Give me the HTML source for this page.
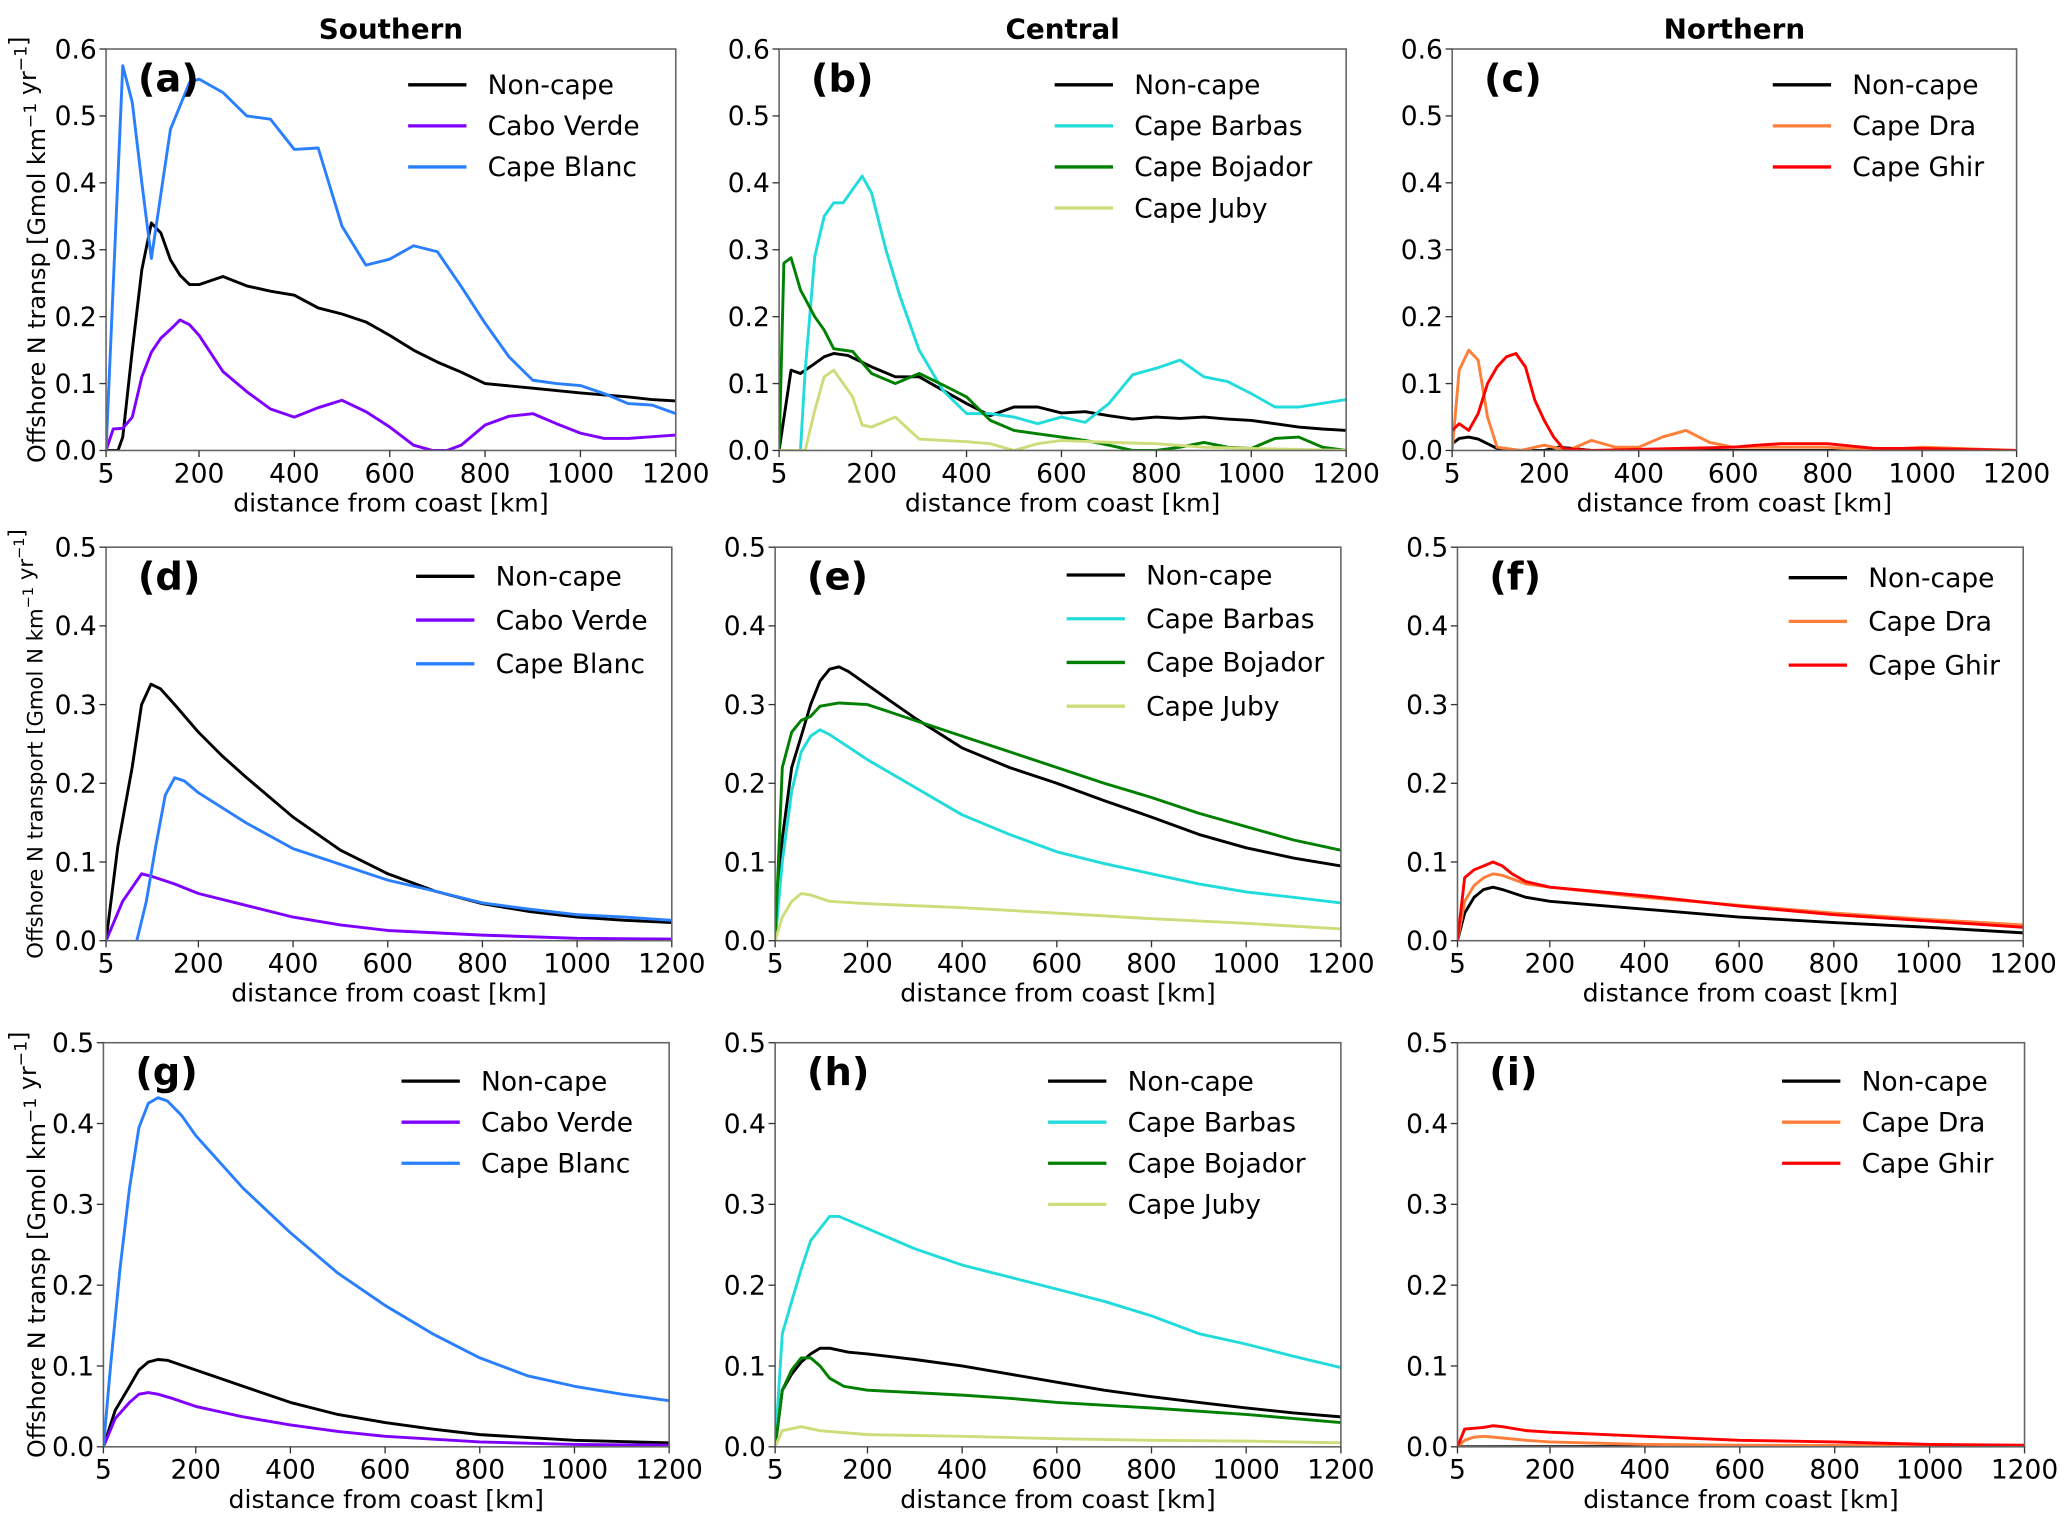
<!DOCTYPE html>
<html><head><meta charset="utf-8"><style>
html,body{margin:0;padding:0;background:#fff;}
svg{display:block;font-family:"DejaVu Sans","Liberation Sans",sans-serif;}
</style></head><body>
<svg id="fig" width="2067" height="1521" viewBox="0 0 1560 1148" xmlns="http://www.w3.org/2000/svg"></svg>
<script>
// ---- data ----
const xTicks = [5,200,400,600,800,1000,1200];
const yTicksRow1 = [0,0.1,0.2,0.3,0.4,0.5,0.6];
const yTicksRow23 = [0,0.1,0.2,0.3,0.4,0.5];
const colTitles = ["Southern","Central","Northern"];
const panelLabels = ["(a)","(b)","(c)","(d)","(e)","(f)","(g)","(h)","(i)"];

const aNon = [[5,0],[30,0],[40,0.02],[60,0.15],[80,0.27],[100,0.34],[120,0.325],[140,0.285],[160,0.262],[180,0.248],[200,0.248],[250,0.26],[300,0.246],[350,0.238],[400,0.232],[450,0.213],[500,0.204],[550,0.192],[600,0.172],[650,0.15],[700,0.132],[750,0.117],[800,0.1],[900,0.093],[1000,0.086],[1100,0.08],[1150,0.076],[1200,0.074]];
const aCabo = [[5,0],[20,0.032],[40,0.033],[60,0.05],[80,0.11],[100,0.147],[120,0.168],[140,0.181],[160,0.195],[180,0.188],[200,0.172],[250,0.118],[300,0.088],[350,0.062],[400,0.05],[450,0.064],[500,0.075],[550,0.058],[600,0.035],[650,0.008],[690,0],[720,0],[750,0.008],[800,0.038],[850,0.051],[900,0.055],[950,0.04],[1000,0.026],[1050,0.018],[1100,0.018],[1200,0.023]];
const aBlanc = [[5,0],[40,0.575],[60,0.52],[80,0.4],[100,0.287],[140,0.48],[180,0.55],[200,0.555],[250,0.535],[300,0.5],[350,0.495],[400,0.45],[450,0.452],[500,0.335],[550,0.277],[600,0.286],[650,0.306],[700,0.297],[750,0.245],[800,0.19],[850,0.14],[900,0.105],[950,0.1],[1000,0.097],[1050,0.085],[1100,0.07],[1150,0.068],[1200,0.055]];

const bNon = [[5,0],[30,0.12],[50,0.115],[80,0.13],[100,0.14],[120,0.145],[150,0.142],[200,0.125],[250,0.11],[300,0.11],[350,0.09],[400,0.07],[450,0.052],[500,0.065],[550,0.065],[600,0.056],[650,0.058],[700,0.052],[750,0.047],[800,0.05],[850,0.048],[900,0.05],[950,0.047],[1000,0.045],[1050,0.04],[1100,0.035],[1150,0.032],[1200,0.03]];
const bBarbas = [[5,0],[50,0],[60,0.12],[80,0.29],[100,0.35],[120,0.37],[140,0.37],[160,0.39],[180,0.41],[200,0.385],[230,0.3],[260,0.23],[300,0.15],[350,0.09],[400,0.055],[450,0.055],[500,0.05],[550,0.04],[600,0.05],[650,0.042],[700,0.07],[750,0.113],[800,0.123],[850,0.135],[900,0.11],[950,0.103],[1000,0.085],[1050,0.065],[1100,0.065],[1200,0.076]];
const bBojador = [[5,0],[15,0.28],[30,0.288],[50,0.24],[80,0.2],[100,0.18],[120,0.152],[160,0.148],[200,0.115],[250,0.1],[300,0.115],[350,0.098],[400,0.08],[450,0.045],[500,0.03],[550,0.025],[600,0.02],[650,0.015],[700,0.008],[750,0],[800,0],[850,0.005],[900,0.012],[950,0.005],[1000,0.003],[1050,0.018],[1100,0.02],[1150,0.005],[1200,0]];
const bJuby = [[5,0],[60,0],[80,0.06],[100,0.11],[120,0.12],[140,0.1],[160,0.08],[180,0.038],[200,0.035],[250,0.05],[300,0.017],[350,0.015],[400,0.013],[450,0.01],[500,0],[550,0.01],[600,0.015],[700,0.012],[800,0.01],[900,0.005],[1000,0.003],[1200,0]];

const cNon = [[5,0.01],[20,0.018],[40,0.02],[60,0.017],[80,0.01],[100,0.003],[120,0],[200,0],[230,0.005],[260,0.003],[300,0],[1200,0]];
const cDra = [[5,0],[20,0.12],[40,0.15],[60,0.135],[80,0.05],[100,0.005],[150,0],[200,0.008],[250,0],[300,0.015],[350,0.005],[400,0.005],[450,0.02],[500,0.03],[550,0.012],[600,0.005],[800,0.005],[900,0],[1000,0.005],[1200,0]];
const cGhir = [[5,0.03],[20,0.04],[40,0.03],[60,0.055],[80,0.1],[100,0.125],[120,0.14],[140,0.145],[160,0.125],[180,0.075],[200,0.045],[220,0.02],[240,0.003],[300,0],[600,0.005],[650,0.008],[700,0.01],[800,0.01],[900,0.003],[1000,0.003],[1200,0]];

const dNon = [[5,0],[30,0.12],[60,0.22],[80,0.3],[100,0.326],[120,0.32],[150,0.3],[200,0.265],[250,0.235],[300,0.208],[400,0.157],[500,0.115],[600,0.085],[700,0.063],[800,0.047],[900,0.037],[1000,0.03],[1100,0.026],[1200,0.023]];
const dCabo = [[5,0],[40,0.05],[80,0.085],[100,0.082],[150,0.072],[200,0.06],[300,0.045],[400,0.03],[500,0.02],[600,0.013],[800,0.007],[1000,0.003],[1200,0.002]];
const dBlanc = [[5,0],[30,-0.005],[50,-0.01],[70,0],[90,0.05],[110,0.12],[130,0.185],[150,0.207],[170,0.203],[200,0.188],[300,0.15],[400,0.117],[500,0.097],[600,0.077],[700,0.063],[800,0.048],[900,0.04],[1000,0.033],[1100,0.03],[1200,0.026]];

const eNon = [[5,0],[20,0.13],[40,0.22],[60,0.26],[80,0.3],[100,0.33],[120,0.345],[140,0.348],[160,0.342],[200,0.325],[300,0.283],[400,0.245],[500,0.22],[600,0.2],[700,0.178],[800,0.157],[900,0.135],[1000,0.118],[1100,0.105],[1200,0.095]];
const eBarbas = [[5,0],[20,0.1],[40,0.19],[60,0.24],[80,0.26],[100,0.268],[120,0.262],[150,0.25],[200,0.23],[300,0.195],[400,0.16],[500,0.135],[600,0.113],[700,0.098],[800,0.085],[900,0.072],[1000,0.062],[1100,0.055],[1200,0.048]];
const eBojador = [[5,0],[20,0.22],[40,0.265],[60,0.28],[80,0.285],[100,0.298],[140,0.302],[200,0.3],[300,0.28],[400,0.26],[500,0.24],[600,0.22],[700,0.2],[800,0.182],[900,0.162],[1000,0.145],[1100,0.128],[1200,0.115]];
const eJuby = [[5,0],[20,0.03],[40,0.05],[60,0.06],[80,0.058],[120,0.05],[200,0.047],[400,0.042],[600,0.035],[800,0.028],[1000,0.022],[1200,0.015]];

const fNon = [[5,0],[20,0.035],[40,0.055],[60,0.065],[80,0.068],[100,0.065],[150,0.055],[200,0.05],[400,0.04],[600,0.03],[800,0.023],[1000,0.017],[1200,0.01]];
const fDra = [[5,0],[20,0.05],[40,0.07],[60,0.08],[80,0.085],[100,0.083],[150,0.072],[200,0.068],[400,0.055],[600,0.045],[800,0.035],[1000,0.027],[1200,0.02]];
const fGhir = [[5,0],[20,0.08],[40,0.09],[60,0.095],[80,0.1],[100,0.095],[120,0.085],[150,0.075],[200,0.068],[400,0.057],[600,0.044],[800,0.033],[1000,0.025],[1200,0.017]];

const gNon = [[5,0],[30,0.045],[60,0.075],[80,0.095],[100,0.105],[120,0.108],[140,0.107],[200,0.095],[300,0.075],[400,0.055],[500,0.04],[600,0.03],[700,0.022],[800,0.015],[1000,0.008],[1200,0.005]];
const gCabo = [[5,0],[30,0.035],[60,0.055],[80,0.065],[100,0.067],[120,0.065],[150,0.06],[200,0.05],[300,0.037],[400,0.027],[500,0.019],[600,0.013],[800,0.006],[1000,0.003],[1200,0.002]];
const gBlanc = [[5,0],[20,0.1],[40,0.22],[60,0.32],[80,0.395],[100,0.425],[120,0.432],[140,0.428],[170,0.41],[200,0.385],[300,0.32],[400,0.265],[500,0.215],[600,0.175],[700,0.14],[800,0.11],[900,0.088],[1000,0.075],[1100,0.065],[1200,0.057]];

const hNon = [[5,0],[20,0.07],[40,0.09],[60,0.105],[80,0.115],[100,0.122],[120,0.122],[160,0.117],[200,0.115],[300,0.108],[400,0.1],[500,0.09],[600,0.08],[700,0.07],[800,0.062],[900,0.055],[1000,0.048],[1100,0.042],[1200,0.037]];
const hBarbas = [[5,0],[20,0.14],[40,0.18],[60,0.22],[80,0.255],[100,0.27],[120,0.285],[140,0.285],[200,0.27],[300,0.245],[400,0.225],[500,0.21],[600,0.195],[700,0.18],[800,0.162],[900,0.14],[1000,0.127],[1100,0.112],[1200,0.098]];
const hBojador = [[5,0],[20,0.07],[40,0.095],[60,0.11],[80,0.11],[100,0.1],[120,0.085],[150,0.075],[200,0.07],[300,0.067],[400,0.064],[500,0.06],[600,0.055],[800,0.048],[1000,0.04],[1200,0.03]];
const hJuby = [[5,0],[20,0.02],[60,0.025],[100,0.02],[200,0.015],[400,0.013],[600,0.01],[800,0.008],[1000,0.007],[1200,0.005]];

const iNon = [[5,0],[1200,0.001]];
const iDra = [[5,0],[20,0.008],[40,0.012],[60,0.013],[80,0.012],[150,0.008],[200,0.006],[400,0.003],[600,0.002],[1200,0.001]];
const iGhir = [[5,0],[20,0.022],[60,0.024],[80,0.026],[100,0.025],[150,0.02],[200,0.018],[400,0.013],[600,0.008],[800,0.006],[1000,0.003],[1200,0.002]];

const C = {non:"#000000",cabo:"#8000ff",blanc:"#2a7fff",barbas:"#22dcdc",bojador:"#008000",juby:"#cfdc7a",dra:"#ff7f3a",ghir:"#ff0000"};
const south = (n,c,b)=>[["Non-cape",C.non,n],["Cabo Verde",C.cabo,c],["Cape Blanc",C.blanc,b]];
const central = (n,ba,bo,j)=>[["Non-cape",C.non,n],["Cape Barbas",C.barbas,ba],["Cape Bojador",C.bojador,bo],["Cape Juby",C.juby,j]];
const north = (n,d,g)=>[["Non-cape",C.non,n],["Cape Dra",C.dra,d],["Cape Ghir",C.ghir,g]];

const panels = [
 {l:80,r:510,t:37,b:340,ymax:0.6,yt:yTicksRow1,s:south(aNon,aCabo,aBlanc),lx:308,ly:64,ls:31},
 {l:588,r:1016,t:37,b:340,ymax:0.6,yt:yTicksRow1,s:central(bNon,bBarbas,bBojador,bJuby),lx:796,ly:64,ls:31},
 {l:1096,r:1522,t:37,b:340,ymax:0.6,yt:yTicksRow1,s:north(cNon,cDra,cGhir),lx:1338,ly:64,ls:31},
 {l:80,r:507,t:413,b:710,ymax:0.5,yt:yTicksRow23,s:south(dNon,dCabo,dBlanc),lx:314,ly:435,ls:33},
 {l:585,r:1012,t:413,b:710,ymax:0.5,yt:yTicksRow23,s:central(eNon,eBarbas,eBojador,eJuby),lx:805,ly:434,ls:33},
 {l:1100,r:1527,t:413,b:710,ymax:0.5,yt:yTicksRow23,s:north(fNon,fDra,fGhir),lx:1350,ly:436,ls:33},
 {l:78,r:505,t:787,b:1092,ymax:0.5,yt:yTicksRow23,s:south(gNon,gCabo,gBlanc),lx:303,ly:816,ls:31},
 {l:585,r:1012,t:787,b:1092,ymax:0.5,yt:yTicksRow23,s:central(hNon,hBarbas,hBojador,hJuby),lx:791,ly:816,ls:31},
 {l:1100,r:1528,t:787,b:1092,ymax:0.5,yt:yTicksRow23,s:north(iNon,iDra,iGhir),lx:1345,ly:816,ls:31}
];

const NS="http://www.w3.org/2000/svg";
const svg=document.getElementById('fig');
function mk(tag,attrs,parent,text){const e=document.createElementNS(NS,tag);for(const k in attrs)e.setAttribute(k,attrs[k]);if(text!==undefined)e.textContent=text;(parent||svg).appendChild(e);return e;}

panels.forEach((p,i)=>{
  const g=mk('g',{});
  
  
  const xs=v=>p.l+(v-5)/(1200-5)*(p.r-p.l);
  const ys=v=>p.b-v/p.ymax*(p.b-p.t);
  const cid='clip'+i;
  const cp=mk('clipPath',{id:cid},g);mk('rect',{x:p.l,y:p.t,width:p.r-p.l,height:p.b-p.t},cp);
  // series
  p.s.forEach(([name,col,data])=>{
    const d=data.map((pt,k)=>(k?'L':'M')+xs(pt[0]).toFixed(1)+','+ys(pt[1]).toFixed(1)).join('');
    const path=mk('path',{d:d,fill:'none',stroke:col,'stroke-width':2.2,'stroke-linejoin':'round','clip-path':'url(#'+cid+')'},g);
    
    
  });
  // frame
  const fr=mk('rect',{x:p.l,y:p.t,width:p.r-p.l,height:p.b-p.t,fill:'none',stroke:'#666','stroke-width':1.2},g);
  
  
  // x ticks
  xTicks.forEach(v=>{
    const x=xs(v);
    mk('line',{x1:x,y1:p.b,x2:x,y2:p.b+5,stroke:'#333','stroke-width':1},g);
    const t=mk('text',{x:x,y:p.b+24,'font-size':20,'text-anchor':'middle',fill:'#000'},g,String(v));
    
    
  });
  p.yt.forEach(v=>{
    const y=ys(v);
    mk('line',{x1:p.l-5,y1:y,x2:p.l,y2:y,stroke:'#333','stroke-width':1},g);
    const t=mk('text',{x:p.l-7,y:y+7,'font-size':20,'text-anchor':'end',fill:'#000'},g,v.toFixed(1));
    
    
  });
  const xl=mk('text',{x:(p.l+p.r)/2,y:p.b+46,'font-size':19,'text-anchor':'middle',fill:'#000'},g,'distance from coast [km]');
  
  
  const pl=mk('text',{x:p.l+24,y:p.t+32,'font-size':29,'font-weight':'bold',fill:'#000'},g,panelLabels[i]);
  
  
  // legend
  p.s.forEach(([name,col],k)=>{
    const y=p.ly+k*p.ls;
    const lg=mk('g',{},g);
    
    
    mk('line',{x1:p.lx,y1:y,x2:p.lx+44,y2:y,stroke:col,'stroke-width':2.5},lg);
    mk('text',{x:p.lx+60,y:y+7,'font-size':20,fill:'#000'},lg,name);
  });
  if(i<3){
    const tt=mk('text',{x:(p.l+p.r)/2,y:29,'font-size':21,'font-weight':'bold','text-anchor':'middle',fill:'#000'},g,colTitles[i]);
    
    
  }
  if(i%3===0){
    const cy=(p.t+p.b)/2;
    const row2=(i===3);
    const yl=mk('text',{x:0,y:0,'font-size':row2?16:18,'text-anchor':'middle',fill:'#000',transform:'translate('+(row2?32:34)+','+cy+') rotate(-90)'},g);
    
    
    const parts=row2?[['Offshore N transport [Gmol N km',''],['−1','s'],[' yr',''],['−1','s'],[']','']]:[['Offshore N transp [Gmol km',''],['−1','s'],[' yr',''],['−1','s'],[']','']];
    parts.forEach(([txt,s])=>{
      const ts=mk('tspan',s?{dy:-7,'font-size':row2?11:13}:{dy:0},yl,txt);
      if(s){const back=mk('tspan',{dy:7},yl,'');}
    });
  }
});
</script>
</body></html>
